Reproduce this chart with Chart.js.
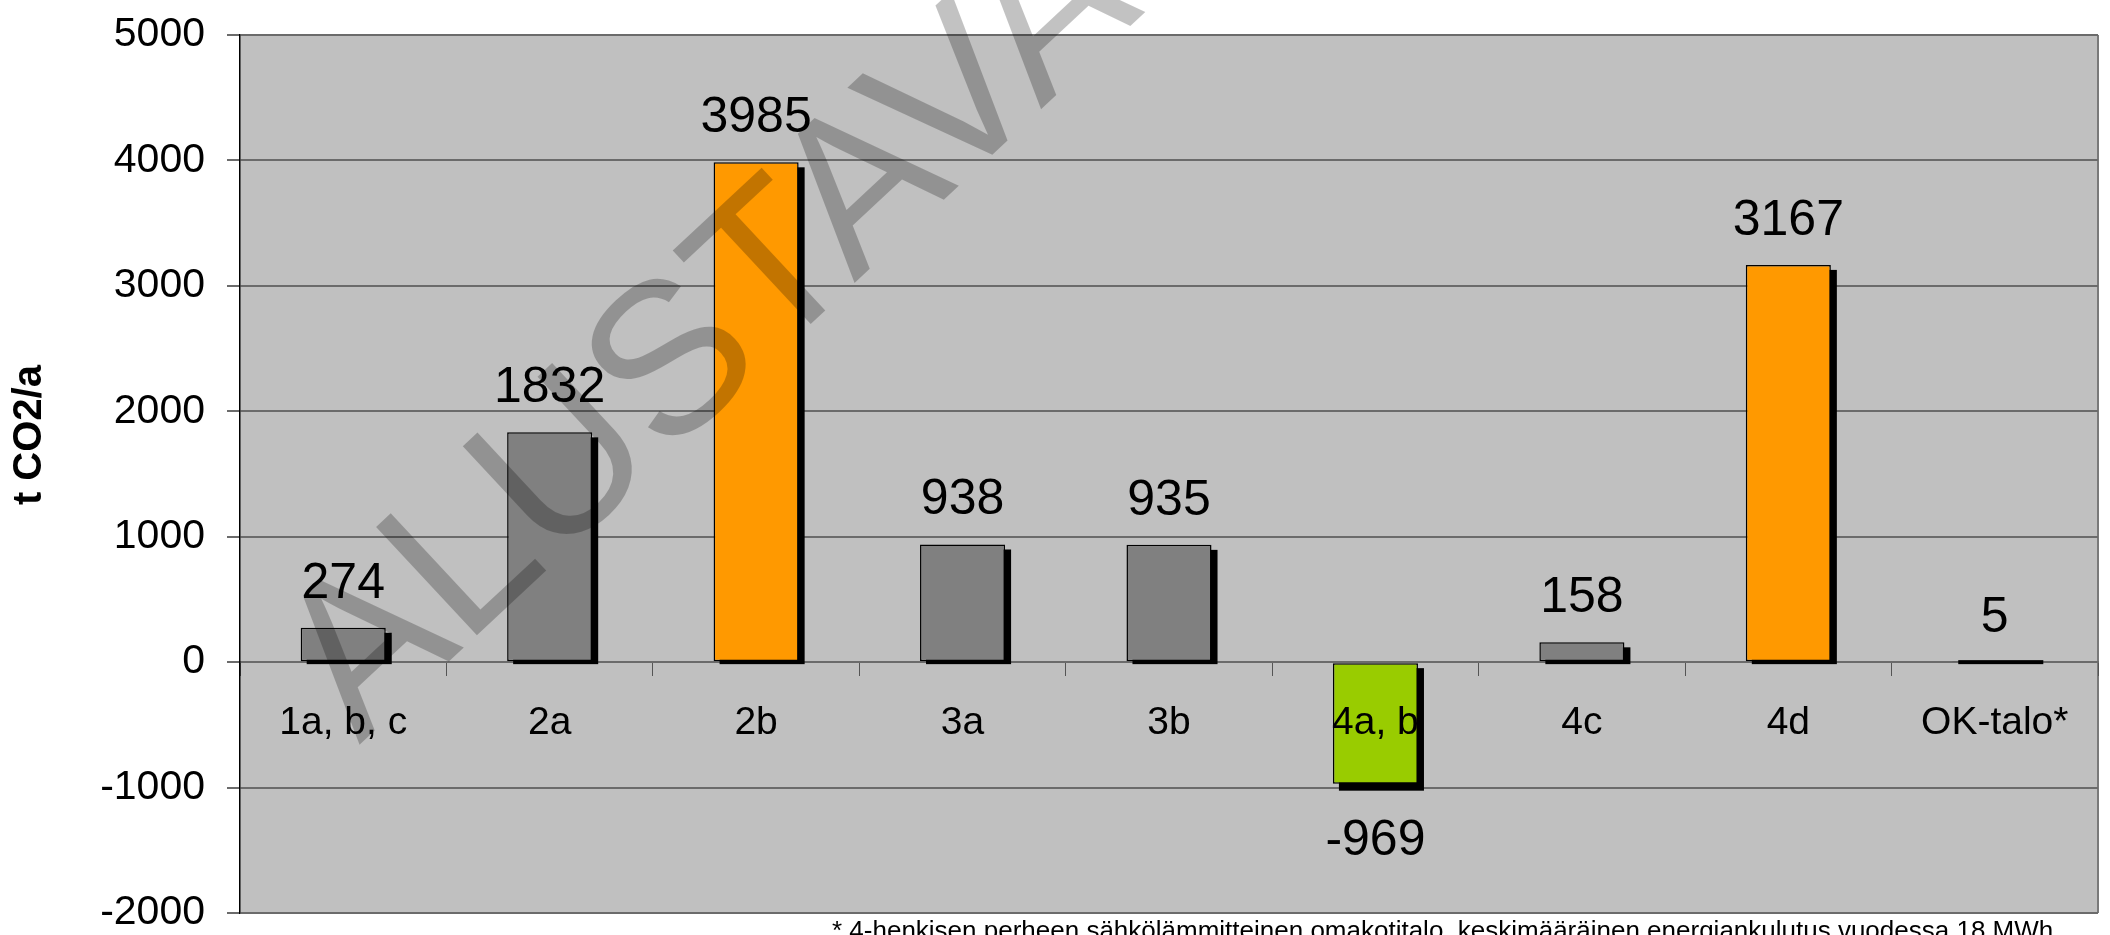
<!DOCTYPE html>
<html>
<head>
<meta charset="utf-8">
<script src="https://cdn.jsdelivr.net/npm/chart.js@4"></script>
<style>
html, body { margin: 0; padding: 0; background: #fff; }
canvas { display: block; }
</style>
</head>
<body>
<canvas id="co2Chart" width="2110" height="935"></canvas>
<script>
// values
var categories = ['1a, b, c', '2a', '2b', '3a', '3b', '4a, b', '4c', '4d', 'OK-talo*'];
var co2Values = [274, 1832, 3985, 938, 935, -969, 158, 3167, 5];
var barColors = ['#808080', '#808080', '#FF9900', '#808080', '#808080', '#99CC00', '#808080', '#FF9900', '#808080'];
var yTicks = [-2000, -1000, 0, 1000, 2000, 3000, 4000, 5000];
var yTitle = 't CO2/a';
var footnote = '* 4-henkisen perheen sähkölämmitteinen omakotitalo, keskimääräinen energiankulutus vuodessa 18 MWh';
var watermark = 'ALUSTAVA';

var FONT = '"Liberation Sans", Arial, sans-serif';

//grey plot area with a frame
var plotBackground = {
	id: 'plotBackground',
	beforeDraw: function(chart) {
		var a = chart.chartArea;
		var ctx = chart.ctx;
		ctx.save();
		ctx.fillStyle = '#C0C0C0';
		ctx.fillRect(a.left, a.top, a.right - a.left, a.bottom - a.top);
		ctx.strokeStyle = '#7a7a7a';
		ctx.lineWidth = 2;
		ctx.beginPath();
		ctx.moveTo(a.right, a.top);
		ctx.lineTo(a.right, a.bottom);
		ctx.stroke();
		ctx.restore();
	}
};

//black drop shadow behind each bar (Excel style)
var barShadows = {
	id: 'barShadows',
	beforeDatasetsDraw: function(chart) {
		var ctx = chart.ctx;
		var meta = chart.getDatasetMeta(0);
		ctx.save();
		ctx.fillStyle = '#000';
		meta.data.forEach(function(bar, i) {
			var p = bar.getProps(['x', 'y', 'base', 'width'], true);
			var left = p.x - p.width / 2 + 6;
			var y1, y2;
			if (co2Values[i] >= 0) {
				y1 = p.y + 5;
				y2 = p.base + 3;
				if (y2 - y1 < 4) { y1 = p.base - 1; }
			} else {
				y1 = p.base + 5;
				y2 = p.y + 7;
			}
			ctx.fillRect(left, y1, p.width, y2 - y1);
		});
		ctx.restore();
	}
};

//numbers above / below the bars
var valueLabels = {
	id: 'valueLabels',
	afterDatasetsDraw: function(chart) {
		var ctx = chart.ctx;
		var meta = chart.getDatasetMeta(0);
		ctx.save();
		ctx.font = '50px ' + FONT;
		ctx.fillStyle = '#000';
		ctx.textAlign = 'center';
		ctx.textBaseline = 'alphabetic';
		meta.data.forEach(function(bar, i) {
			var v = co2Values[i];
			var p = bar.getProps(['x', 'y'], true);
			if (v >= 0) {
				ctx.fillText(String(v), p.x, p.y - 30);
			} else {
				ctx.fillText(String(v), p.x, p.y + 71);
			}
		});
		ctx.restore();
	}
};

//watermark and footnote
var extras = {
	id: 'extras',
	afterDraw: function(chart) {
		var ctx = chart.ctx;
		ctx.save();
		ctx.font = '26px ' + FONT;
		ctx.fillStyle = '#000';
		ctx.textAlign = 'left';
		ctx.textBaseline = 'alphabetic';
		ctx.fillText(footnote, 832, 939, 1246);
		ctx.restore();

		ctx.save();
		ctx.translate(712, 335);
		ctx.rotate(-43 * Math.PI / 180);
		ctx.font = '215px ' + FONT;
		ctx.fillStyle = 'rgba(0,0,0,0.24)';
		ctx.textAlign = 'center';
		ctx.textBaseline = 'middle';
		ctx.fillText(watermark, 0, 0);
		ctx.restore();
	}
};

var ctx = document.getElementById('co2Chart').getContext('2d');

var myChart = new Chart(ctx, {
	type: 'bar',
	data: {
		labels: categories,
		datasets: [
			{
				data: co2Values,
				backgroundColor: barColors,
				borderColor: '#000',
				borderWidth: 1.5,
				borderSkipped: false,
				categoryPercentage: 1,
				barPercentage: 0.412
			}
		]
	},
	plugins: [plotBackground, barShadows, valueLabels, extras],
	options: {
		responsive: false,
		devicePixelRatio: 1,
		animation: false,
		layout: {
			padding: { top: 35, right: 12, bottom: 22, left: 0 }
		},
		plugins: {
			legend: { display: false },
			tooltip: { enabled: false }
		},
		scales: {
			x: {
				position: { y: 0 },
				afterFit: function(scale) { scale.height = 0; },
				grid: {
					offset: true,
					drawOnChartArea: false,
					drawTicks: true,
					tickLength: 13,
					color: '#555',
					lineWidth: 1
				},
				border: { display: true, color: '#6b6b6b', width: 2 },
				ticks: {
					z: 1,
					padding: 25,
					color: '#000',
					maxRotation: 0,
					autoSkip: false,
					font: { family: FONT, size: 39 }
				}
			},
			y: {
				min: yTicks[0],
				max: yTicks[yTicks.length - 1],
				afterFit: function(scale) {
					// fixed axis width, plot area edges come from layout padding
					scale.width = 240;
					scale.paddingTop = 0;
					scale.paddingBottom = 0;
				},
				afterBuildTicks: function(scale) {
					scale.ticks = yTicks.map(function(v) { return { value: v }; });
				},
				grid: {
					color: '#6b6b6b',
					lineWidth: 2,
					tickLength: 13
				},
				border: { display: true, color: '#000', width: 1.5 },
				ticks: {
					padding: 22,
					color: '#000',
					font: { family: FONT, size: 41, lineHeight: 1 },
					callback: function(value) { return String(value); }
				},
				title: {
					display: true,
					text: '       ' + yTitle,
					color: '#000',
					font: { family: FONT, size: 40, weight: 'bold' },
					padding: { top: 6, bottom: 0 }
				}
			}
		}
	}
});
</script>
</body>
</html>
